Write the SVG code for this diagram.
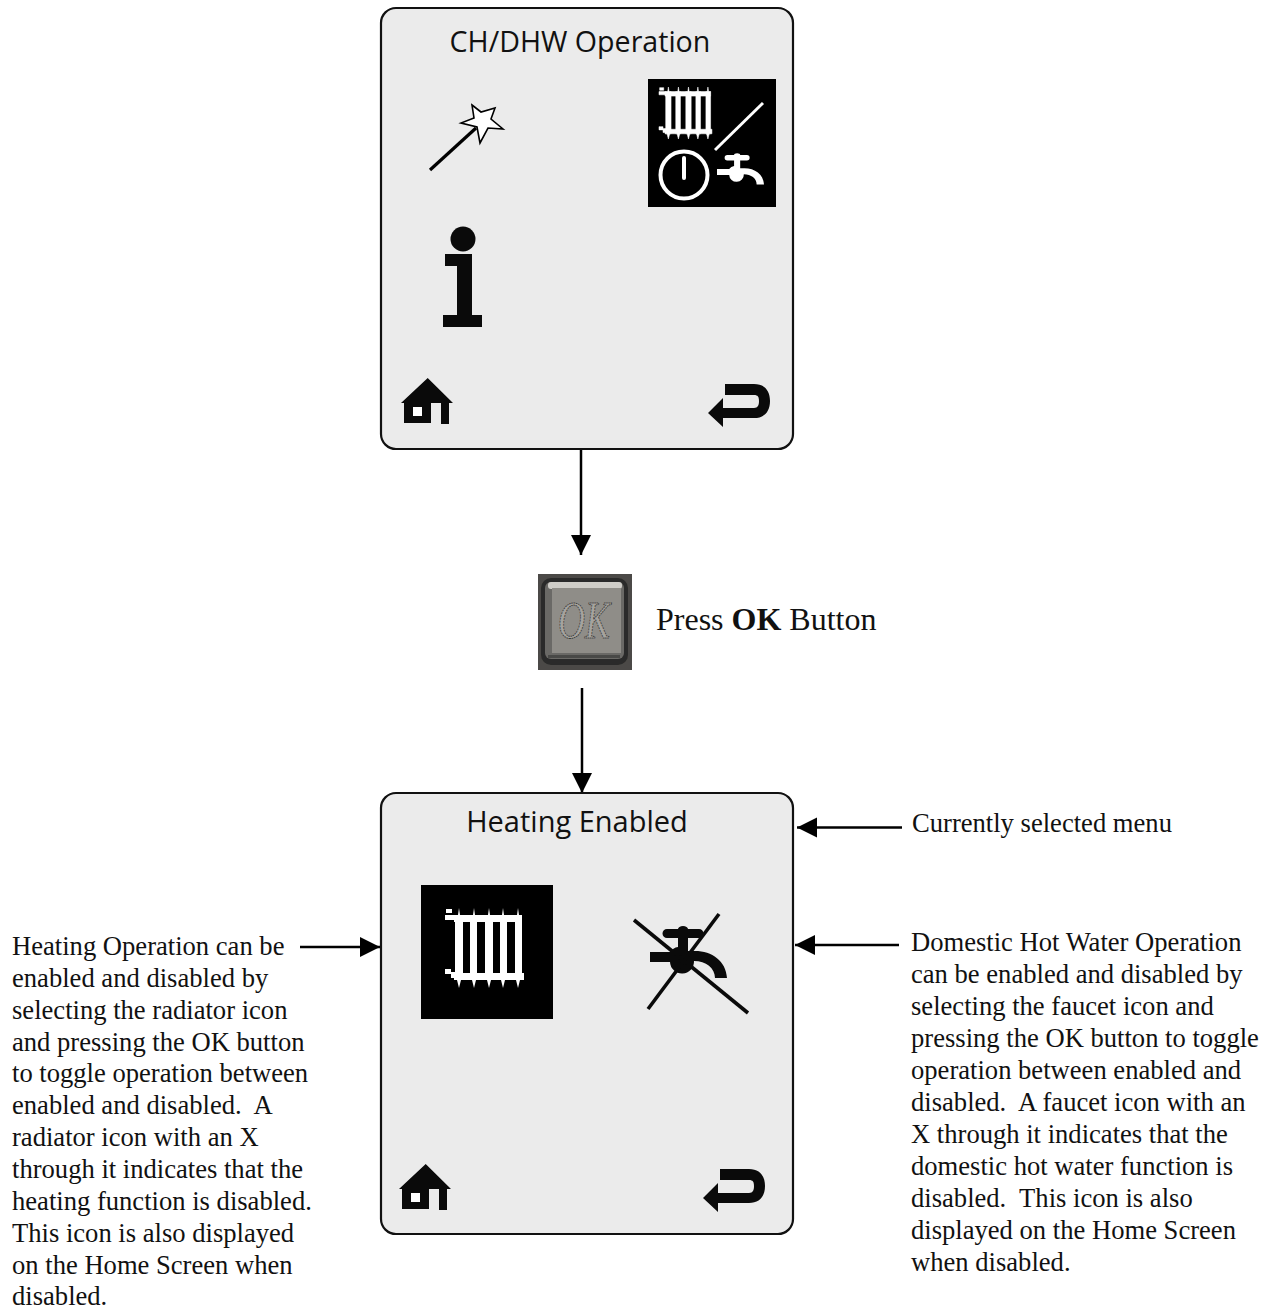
<svg xmlns="http://www.w3.org/2000/svg" xmlns:xlink="http://www.w3.org/1999/xlink" width="1270" height="1310" viewBox="0 0 1270 1310">
<style>
.screen{fill:#ebebeb;stroke:#111;stroke-width:2.2}
.title{font-family:"Open Sans","Noto Sans",sans-serif;font-size:29px;fill:#111;text-anchor:middle}
.body{font-family:"Liberation Serif",serif;font-size:26.600px;fill:#111}
.big{font-family:"Liberation Serif",serif;font-size:32px;fill:#111}
.conn{stroke:#000;stroke-width:2.500;fill:none}
.k{fill:#0a0a0a}
.p{white-space:pre}
</style>
<defs>
<marker id="ah" markerUnits="userSpaceOnUse" markerWidth="22" markerHeight="22" refX="20" refY="11" orient="auto"><path d="M0 1L20 11L0 21Z" fill="#000"/></marker>
<filter id="soft" x="-5%" y="-5%" width="110%" height="110%"><feGaussianBlur stdDeviation=".6"/></filter>
<g id="home"><path class="k" d="M26.700 0L52 25H48V46H40V25H30V45H3V25H0Z"/><rect x="12" y="29" width="9" height="9" fill="#fff"/></g>
<path id="back" class="k" d="M17 14H46C56 14 62 20 62 31C62 42 56 48 46 48H15V57L0 43L15 28V38H46C50 38 51 35 51 31C51 27 50 25 46 25H17Z"/>
<g id="rad">
<path fill="#fff" d="M9 7h4l1-7 1 7h13l1-7 1 7h13l1-7 1 7h12l1-7 1 7h13l1-7 1 7h3v7H9z M9 65h70v7H9z M10 7h8v65h-8z M25 7h7v65h-7z M40 7h8v65h-8z M55 7h7v65h-7z M70 7h7v65h-7z M12 72l2 8 2-8z M27 72l2 8 2-8z M42 72l2 8 2-8z M56 72l2 8 2-8z M71 72l2 8 2-8z M0 7h10v5H0z M1 1h6v4H1z M0 61h6v3h4v6H6v-4H0z"/>
</g>
<path id="faucet" d="M17 1H28a5 3 0 0 1 10 0H49a4.500 4.500 0 0 1 0 9H38V23H45C62 23 76 33 77 50H65C65 40 56 33 44 33a12 12 0 0 1-24 1H0V24H20A12 12 0 0 1 28 19V10H17a4.500 4.500 0 0 1 0-9Z"/>
</defs>

<g id="connectors">
<line class="conn" x1="581" y1="450" x2="581" y2="555" marker-end="url(#ah)"/>
<line class="conn" x1="582" y1="688" x2="582" y2="793" marker-end="url(#ah)"/>
<line class="conn" x1="902" y1="827.500" x2="797" y2="827.500" marker-end="url(#ah)"/>
<line class="conn" x1="899" y1="945" x2="795" y2="945" marker-end="url(#ah)"/>
<line class="conn" x1="300" y1="947" x2="380" y2="947" marker-end="url(#ah)"/>
</g>

<g id="screen1">
<rect class="screen" x="381" y="8" width="412" height="441" rx="15"/>
<text class="title" x="580" y="52" style="font-size:28.600px">CH/DHW Operation</text>
<g id="wand">
<line x1="430" y1="170" x2="476" y2="128" stroke="#000" stroke-width="3.200"/>
<path d="M472 105L481 112L495 108L491 119L503 129L488 128L480 143L477 127L461 123L474 118Z" fill="#fff" stroke="#000" stroke-width="1.600"/>
</g>
<g id="mode-icon">
<rect x="648" y="79" width="128" height="128" fill="#000"/>
<use xlink:href="#rad" href="#rad" stroke="#fff" stroke-width=".8" transform="translate(659,87) scale(.67,.65)"/>
<line x1="715" y1="150" x2="763" y2="103" stroke="#fff" stroke-width="3"/>
<circle cx="684" cy="175" r="23.500" fill="none" stroke="#fff" stroke-width="4"/>
<line x1="684" y1="158" x2="684" y2="178" stroke="#fff" stroke-width="4" stroke-linecap="round"/>
<use xlink:href="#faucet" href="#faucet" fill="#fff" transform="translate(717,154.500) scale(.61,.6)"/>
</g>
<g id="info"><circle class="k" cx="463" cy="239" r="12.500"/><path class="k" d="M445 254H472V315H482V327H443V315H457V266H445Z"/></g>
<use xlink:href="#home" href="#home" transform="translate(401,378)"/>
<use xlink:href="#back" href="#back" transform="translate(708,370)"/>
</g>

<g id="ok-button">
<g filter="url(#soft)">
<rect x="538" y="574" width="94" height="96" fill="#4b4a47"/>
<rect x="541" y="578" width="87" height="87" rx="10" fill="#2c2b29"/>
<rect x="545" y="582" width="79" height="77" rx="6" fill="#6a6966"/>
<rect x="548" y="582" width="74" height="7" rx="3" fill="#cfcdc8"/>
<rect x="552" y="588" width="69" height="65" fill="#8f8d88"/>
<rect x="548" y="655" width="72" height="3" fill="#4a4946"/>
</g>
<text transform="translate(584,638) scale(.72,1)" text-anchor="middle" font-family="Liberation Serif,serif" font-style="italic" font-size="52" fill="#a5a39e" stroke="#3a3a3a" stroke-width="1" stroke-dasharray="2 1">OK</text>
</g>
<text id="press" class="big" x="656" y="629.500">Press <tspan font-weight="bold">OK</tspan> Button</text>

<g id="screen2">
<rect class="screen" x="381" y="793" width="412" height="441" rx="15"/>
<text class="title" x="577" y="832">Heating Enabled</text>
<g id="radiator-icon">
<rect x="421" y="885" width="132" height="134" fill="#000"/>
<use xlink:href="#rad" href="#rad" transform="translate(445,908)"/>
</g>
<g id="faucet-icon">
<use xlink:href="#faucet" href="#faucet" class="k" transform="translate(650,928)"/>
<line x1="634" y1="920" x2="748" y2="1013" stroke="#0a0a0a" stroke-width="3.600"/>
<line x1="719" y1="914" x2="648" y2="1009" stroke="#0a0a0a" stroke-width="3.600"/>
</g>
<use xlink:href="#home" href="#home" transform="translate(399,1164)"/>
<use xlink:href="#back" href="#back" transform="translate(703,1155)"/>
</g>

<text id="label-current" class="body" x="912" y="831.500">Currently selected menu</text>
<text id="label-left" class="body">
<tspan x="12" y="955">Heating Operation can be</tspan>
<tspan x="12" y="986.800">enabled and disabled by</tspan>
<tspan x="12" y="1018.700">selecting the radiator icon</tspan>
<tspan x="12" y="1050.500">and pressing the OK button</tspan>
<tspan x="12" y="1082.400">to toggle operation between</tspan>
<tspan x="12" y="1114.200" class="p">enabled and disabled.  A</tspan>
<tspan x="12" y="1146.100">radiator icon with an X</tspan>
<tspan x="12" y="1178">through it indicates that the</tspan>
<tspan x="12" y="1209.800">heating function is disabled.</tspan>
<tspan x="12" y="1241.700">This icon is also displayed</tspan>
<tspan x="12" y="1273.500">on the Home Screen when</tspan>
<tspan x="12" y="1305.400">disabled.</tspan>
</text>
<text id="label-right" class="body">
<tspan x="911" y="951">Domestic Hot Water Operation</tspan>
<tspan x="911" y="983">can be enabled and disabled by</tspan>
<tspan x="911" y="1015">selecting the faucet icon and</tspan>
<tspan x="911" y="1047">pressing the OK button to toggle</tspan>
<tspan x="911" y="1079">operation between enabled and</tspan>
<tspan x="911" y="1111" class="p">disabled.  A faucet icon with an</tspan>
<tspan x="911" y="1143">X through it indicates that the</tspan>
<tspan x="911" y="1175">domestic hot water function is</tspan>
<tspan x="911" y="1207" class="p">disabled.  This icon is also</tspan>
<tspan x="911" y="1239">displayed on the Home Screen</tspan>
<tspan x="911" y="1271">when disabled.</tspan>
</text>
</svg>
